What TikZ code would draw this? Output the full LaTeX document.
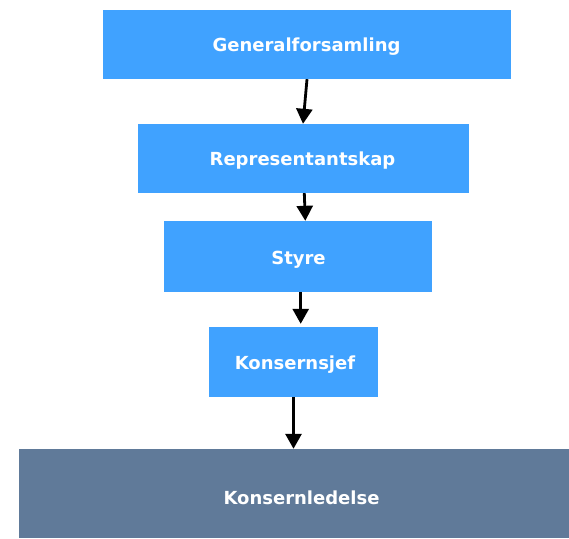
\documentclass[tikz,border=0pt]{standalone}
\usepackage{fontspec}
\setmainfont{DejaVu Sans}
\usetikzlibrary{arrows.meta}
\definecolor{boxblue}{RGB}{64,162,255}
\definecolor{boxslate}{RGB}{96,122,153}
\begin{document}
\begin{tikzpicture}[x=1pt,y=-1pt,
  orgbox/.style={fill=boxblue, draw=none, inner sep=0pt, anchor=center},
  lbl/.style={text=white, font=\bfseries\fontsize{18}{20}\selectfont, inner sep=0pt, text height=13pt, text depth=0pt},
  conn/.style={line width=2.8pt, -{Triangle[width=16pt,length=15pt]}}]
\useasboundingbox (0,0) rectangle (569,538);
\fill[white] (0,0) rectangle (569,538);
\node[orgbox, minimum width=408pt, minimum height=69pt] (g) at (307,44.5) {};
\node[orgbox, minimum width=331pt, minimum height=69pt] (r) at (303.5,158.5) {};
\node[orgbox, minimum width=268pt, minimum height=71pt] (s) at (298,256.5) {};
\node[orgbox, minimum width=169pt, minimum height=70pt] (k) at (293.5,362) {};
\node[orgbox, fill=boxslate, minimum width=550pt, minimum height=89pt] (l) at (294,493.5) {};
\node[lbl] (gt) at (306.5,44.5) {Generalforsamling};
\node[lbl] (rt) at (302.5,159) {Representantskap};
\node[lbl] (st) at (298.5,257.5) {Styre};
\node[lbl] (kt) at (295,363.3) {Konsernsjef};
\node[lbl] (lt) at (301.5,497.5) {Konsernledelse};
\draw[conn] (g.south) -- ([xshift=-0.5pt]r.north);
\draw[conn] ([xshift=0.8pt]r.south) -- ([xshift=7.3pt]s.north);
\draw[conn] ([xshift=2.7pt]s.south) -- ([xshift=7.2pt,yshift=3pt]k.north);
\draw[conn] (k.south) -- ([xshift=-0.5pt]l.north);
\end{tikzpicture}
\end{document}
